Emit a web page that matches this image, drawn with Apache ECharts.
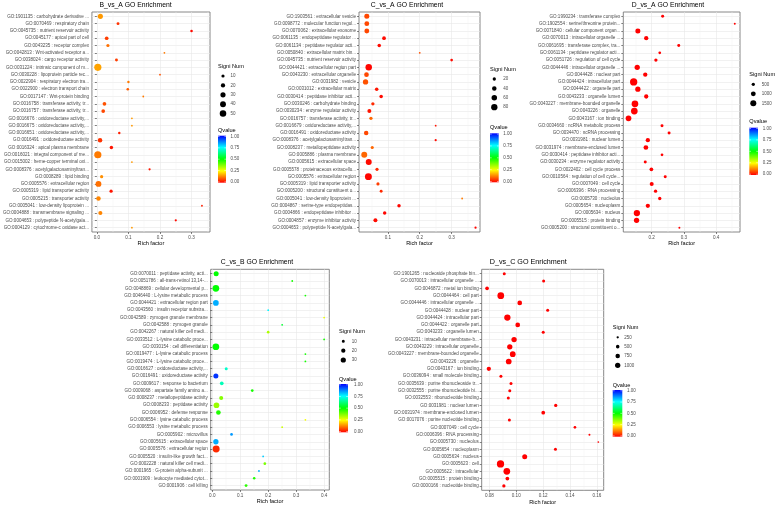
<!DOCTYPE html>
<html><head><meta charset="utf-8">
<script src="https://cdn.jsdelivr.net/npm/echarts@6/dist/echarts.min.js"></script>
<style>html,body{margin:0;padding:0;background:#fff}#c{width:778px;height:507px}</style>
</head><body><div id="c"></div>
<script>
const FONT = '"Liberation Sans", Arial, Helvetica, sans-serif';

// ---------- B_vs_A ----------
const bvaTerms = [
 "GO:1901135 : carbohydrate derivative ...","GO:0070469 : respiratory chain","GO:0045735 : nutrient reservoir activity",
 "GO:0045177 : apical part of cell","GO:0043235 : receptor complex","GO:0042813 : Wnt-activated receptor a...",
 "GO:0038024 : cargo receptor activity","GO:0031224 : intrinsic component of m...","GO:0030228 : lipoprotein particle rec...",
 "GO:0022904 : respiratory electron tra...","GO:0022900 : electron transport chain","GO:0017147 : Wnt-protein binding",
 "GO:0016758 : transferase activity, tr...","GO:0016757 : transferase activity, tr...","GO:0016676 : oxidoreductase activity,...",
 "GO:0016675 : oxidoreductase activity,...","GO:0016651 : oxidoreductase activity,...","GO:0016491 : oxidoreductase activity",
 "GO:0016324 : apical plasma membrane","GO:0016021 : integral component of me...","GO:0015002 : heme-copper terminal oxi...",
 "GO:0008376 : acetylgalactosaminyltran...","GO:0008289 : lipid binding","GO:0005576 : extracellular region",
 "GO:0005319 : lipid transporter activity","GO:0005215 : transporter activity","GO:0005041 : low-density lipoprotein ...",
 "GO:0004888 : transmembrane signaling ...","GO:0004653 : polypeptide N-acetylgala...","GO:0004129 : cytochrome-c oxidase act..."];
const bvaRich = [0.011,0.067,0.3,0.031,0.035,0.214,0.062,0.003,0.2,0.1,0.098,0.147,0.024,0.02,0.111,0.111,0.071,0.01,0.046,0.003,0.111,0.167,0.015,0.005,0.045,0.005,0.333,0.011,0.25,0.111];
const bvaCount = [30,8,6,14,10,1,8,62,1,5,6,1,14,14,1,1,5,22,12,62,1,4,10,40,10,22,1,18,4,1];
const bvaQ = [0.15,0.05,0.01,0.06,0.11,0.12,0.06,0.16,0.08,0.12,0.09,0.12,0.08,0.07,0.15,0.15,0.03,0.05,0.02,0.12,0.15,0.02,0.14,0.11,0.02,0.13,0.03,0.13,0.01,0.15];
const bvaXTicks = [0, 0.1, 0.2, 0.3];
const bvaXMinor = [0.05, 0.15, 0.25, 0.35];
const bvaSizeBreaks = [10, 20, 30, 40, 50];

// ---------- C_vs_A ----------
const cvaTerms = [
 "GO:1903561 : extracellular vesicle","GO:0098772 : molecular function regul...","GO:0070062 : extracellular exosome",
 "GO:0061135 : endopeptidase regulator ...","GO:0061134 : peptidase regulator acti...","GO:0050840 : extracellular matrix bin...",
 "GO:0045735 : nutrient reservoir activity","GO:0044421 : extracellular region part","GO:0043230 : extracellular organelle",
 "GO:0031982 : vesicle","GO:0031012 : extracellular matrix","GO:0030414 : peptidase inhibitor acti...",
 "GO:0030246 : carbohydrate binding","GO:0030234 : enzyme regulator activity","GO:0016757 : transferase activity, tr...",
 "GO:0016679 : oxidoreductase activity,...","GO:0016491 : oxidoreductase activity","GO:0008376 : acetylgalactosaminyltran...",
 "GO:0008237 : metallopeptidase activity","GO:0005886 : plasma membrane","GO:0005615 : extracellular space",
 "GO:0005578 : proteinaceous extracellu...","GO:0005576 : extracellular region","GO:0005319 : lipid transporter activity",
 "GO:0005200 : structural constituent o...","GO:0005041 : low-density lipoprotein ...","GO:0004867 : serine-type endopeptidas...",
 "GO:0004866 : endopeptidase inhibitor ...","GO:0004857 : enzyme inhibitor activity","GO:0004653 : polypeptide N-acetylgala..."];
const cvaRich = [0.034,0.034,0.034,0.088,0.073,0.2,0.3,0.04,0.033,0.03,0.065,0.079,0.053,0.042,0.047,0.25,0.032,0.25,0.051,0.026,0.04,0.066,0.039,0.069,0.079,0.333,0.135,0.09,0.061,0.375];
const cvaCount = [49,45,47,26,23,2,12,85,43,55,23,23,20,30,20,3,39,8,18,72,72,18,98,18,15,2,22,22,30,8];
const cvaQ = [0.07,0.07,0.07,0.01,0.01,0.08,0.01,0.005,0.07,0.08,0.02,0.01,0.04,0.02,0.1,0.02,0.07,0.01,0.1,0.1,0.01,0.04,0.005,0.06,0.04,0.12,0.005,0.005,0.01,0.005];
const cvaXTicks = [0.1, 0.2, 0.3];
const cvaXMinor = [0.05, 0.15, 0.25, 0.35];
const cvaSizeBreaks = [20, 40, 60, 80];

// ---------- D_vs_A ----------
const dvaTerms = [
 "GO:1990234 : transferase complex","GO:1902554 : serine/threonine protein...","GO:0071840 : cellular component organ...",
 "GO:0070013 : intracellular organelle ...","GO:0061695 : transferase complex, tra...","GO:0061134 : peptidase regulator acti...",
 "GO:0051726 : regulation of cell cycle","GO:0044446 : intracellular organelle ...","GO:0044428 : nuclear part",
 "GO:0044424 : intracellular part","GO:0044422 : organelle part","GO:0043233 : organelle lumen",
 "GO:0043227 : membrane-bounded organelle","GO:0043226 : organelle","GO:0043167 : ion binding",
 "GO:0034660 : ncRNA metabolic process","GO:0034470 : ncRNA processing","GO:0031981 : nuclear lumen",
 "GO:0031974 : membrane-enclosed lumen","GO:0030414 : peptidase inhibitor acti...","GO:0030234 : enzyme regulator activity",
 "GO:0022402 : cell cycle process","GO:0010564 : regulation of cell cycle...","GO:0007049 : cell cycle",
 "GO:0006396 : RNA processing","GO:0005730 : nucleolus","GO:0005654 : nucleoplasm",
 "GO:0005634 : nucleus","GO:0005515 : protein binding","GO:0005200 : structural constituent o..."];
const dvaRich = [0.234,0.458,0.157,0.183,0.284,0.225,0.213,0.155,0.18,0.144,0.157,0.183,0.148,0.146,0.128,0.232,0.254,0.188,0.182,0.232,0.18,0.199,0.242,0.2,0.212,0.225,0.188,0.154,0.153,0.286];
const dvaCount = [420,210,1060,800,420,350,500,1180,800,2150,1180,800,1830,1830,1350,420,420,800,950,350,420,610,420,700,500,500,800,1630,1180,210];
const dvaQ = [0,0,0,0,0,0,0,0,0,0,0,0,0,0,0,0,0,0,0,0,0,0,0,0,0,0,0,0,0,0];
const dvaXTicks = [0.2, 0.3, 0.4];
const dvaXMinor = [0.15, 0.25, 0.35, 0.45];
const dvaSizeBreaks = [500, 1000, 1500];

// ---------- C_vs_B ----------
const cvbTerms = [
 "GO:0070011 : peptidase activity, acti...","GO:0051786 : all-trans-retinol 13,14-...","GO:0048869 : cellular developmental p...",
 "GO:0046440 : L-lysine metabolic process","GO:0044421 : extracellular region part","GO:0043560 : insulin receptor substra...",
 "GO:0042589 : zymogen granule membrane","GO:0042588 : zymogen granule","GO:0042267 : natural killer cell medi...",
 "GO:0033512 : L-lysine catabolic proce...","GO:0030154 : cell differentiation","GO:0019477 : L-lysine catabolic process",
 "GO:0019474 : L-lysine catabolic proce...","GO:0016627 : oxidoreductase activity,...","GO:0016491 : oxidoreductase activity",
 "GO:0009617 : response to bacterium","GO:0009068 : aspartate family amino a...","GO:0008237 : metallopeptidase activity",
 "GO:0008233 : peptidase activity","GO:0006952 : defense response","GO:0006554 : lysine catabolic process",
 "GO:0006553 : lysine metabolic process","GO:0005902 : microvillus","GO:0005615 : extracellular space",
 "GO:0005576 : extracellular region","GO:0005520 : insulin-like growth fact...","GO:0002228 : natural killer cell medi...",
 "GO:0001965 : G-protein alpha-subunit ...","GO:0001909 : leukocyte mediated cytot...","GO:0001906 : cell killing"];
const cvbRich = [0.014,0.286,0.013,0.333,0.013,0.2,0.4,0.25,0.2,0.4,0.013,0.333,0.333,0.05,0.013,0.034,0.143,0.032,0.015,0.022,0.333,0.25,0.069,0.013,0.014,0.182,0.188,0.167,0.15,0.121];
const cvbCount = [28,2,50,2,36,2,1,2,8,1,50,2,2,10,28,15,8,18,36,24,1,2,8,31,54,2,8,2,7,9];
const cvbQ = [0.5,0.48,0.5,0.48,0.83,0.76,0.27,0.55,0.33,0.48,0.5,0.48,0.48,0.7,0.95,0.68,0.48,0.37,0.35,0.47,0.26,0.3,0.85,0.83,0.04,0.8,0.38,0.83,0.47,0.46];
const cvbXTicks = [0, 0.1, 0.2, 0.3, 0.4];
const cvbXMinor = [0.05, 0.15, 0.25, 0.35];
const cvbSizeBreaks = [10, 20, 30];

// ---------- D_vs_C ----------
const dvcTerms = [
 "GO:1901265 : nucleoside phosphate bin...","GO:0070013 : intracellular organelle ...","GO:0046872 : metal ion binding",
 "GO:0044464 : cell part","GO:0044446 : intracellular organelle ...","GO:0044428 : nuclear part",
 "GO:0044424 : intracellular part","GO:0044422 : organelle part","GO:0043233 : organelle lumen",
 "GO:0043231 : intracellular membrane-b...","GO:0043229 : intracellular organelle","GO:0043227 : membrane-bounded organelle",
 "GO:0043226 : organelle","GO:0043167 : ion binding","GO:0036094 : small molecule binding",
 "GO:0035639 : purine ribonucleoside tr...","GO:0032555 : purine ribonucleotide bi...","GO:0032553 : ribonucleotide binding",
 "GO:0031981 : nuclear lumen","GO:0031974 : membrane-enclosed lumen","GO:0017076 : purine nucleotide binding",
 "GO:0007049 : cell cycle","GO:0006396 : RNA processing","GO:0005730 : nucleolus",
 "GO:0005654 : nucleoplasm","GO:0005634 : nucleus","GO:0005623 : cell",
 "GO:0005622 : intracellular","GO:0005515 : protein binding","GO:0000166 : nucleotide binding"];
const dvcRich = [0.0911,0.1204,0.0783,0.0885,0.1026,0.1234,0.0934,0.1011,0.1201,0.0984,0.0952,0.0974,0.0944,0.0796,0.0886,0.0961,0.0952,0.0941,0.1294,0.1201,0.0949,0.1437,0.1545,0.1611,0.1292,0.1063,0.0883,0.093,0.0934,0.0908];
const dvcCount = [380,380,540,1520,810,380,1360,810,380,1000,1000,1130,1130,690,380,380,380,380,440,540,380,320,200,160,380,900,1770,1520,540,440];
const dvcQ = [0,0,0,0,0,0,0,0,0,0,0,0,0,0,0,0,0,0,0,0,0,0,0,0,0,0,0,0,0,0];
const dvcXTicks = [0.08, 0.10, 0.12, 0.14, 0.16];
const dvcXMinor = [0.09, 0.11, 0.13, 0.15];
const dvcSizeBreaks = [250, 500, 750, 1000];

const qBreaks = [1, 0.75, 0.5, 0.25, 0];
const qColors = ['#FF0000', '#FFFF00', '#00FF00', '#00FFFF', '#0000FF'];

const panels = [
 {title:'B_vs_A GO Enrichment', terms:bvaTerms, rich:bvaRich, count:bvaCount, q:bvaQ, ticks:bvaXTicks, minor:bvaXMinor, xMin:-0.0157, xMax:0.3585, dec:1,
  grid:{left:91, top:12, width:119, height:220}, tx:135.5, ty:5, tsize:6.8, sa:0.844, sb:0.53, smin:1.8, breaks:bvaSizeBreaks,
  leg:{x:218, sTitleY:66.5, cx:223, cy0:76, step:9.4, lx:230.5, qTitleY:130, barTop:135.7, barBot:182.7, barW:8, qlx:230.5}},
 {title:'C_vs_A GO Enrichment', terms:cvaTerms, rich:cvaRich, count:cvaCount, q:cvaQ, ticks:cvaXTicks, minor:cvaXMinor, xMin:0.0095, xMax:0.389, dec:1,
  grid:{left:359, top:12, width:121, height:220}, tx:407, ty:5, tsize:6.8, sa:0.671, sb:0.3, smin:1.8, breaks:cvaSizeBreaks,
  leg:{x:490, sTitleY:69, cx:494.3, cy0:79, step:9.4, lx:503.3, qTitleY:127.7, barTop:133.3, barBot:182.3, barW:8.7, qlx:503.3}},
 {title:'D_vs_A GO Enrichment', terms:dvaTerms, rich:dvaRich, count:dvaCount, q:dvaQ, ticks:dvaXTicks, minor:dvaXMinor, xMin:0.1118, xMax:0.4742, dec:1,
  grid:{left:623.3, top:12, width:116.7, height:220}, tx:668, ty:5, tsize:6.8, sa:0.166, sb:-0.41, smin:1.8, breaks:dvaSizeBreaks,
  leg:{x:749.3, sTitleY:74, cx:753.3, cy0:84.3, step:9.5, lx:761.7, qTitleY:121.7, barTop:127.7, barBot:175, barW:8.7, qlx:762.7}},
 {title:'C_vs_B GO Enrichment', terms:cvbTerms, rich:cvbRich, count:cvbCount, q:cvbQ, ticks:cvbXTicks, minor:cvbXMinor, xMin:-0.0055, xMax:0.4185, dec:1,
  grid:{left:210.7, top:269.3, width:118.6, height:220.7}, tx:257, ty:262.3, tsize:6.8, sa:0.95, sb:0, smin:1.8, breaks:cvbSizeBreaks,
  leg:{x:339, sTitleY:331, cx:343.3, cy0:341.3, step:9.35, lx:351.7, qTitleY:379.3, barTop:384, barBot:432.3, barW:9, qlx:354}},
 {title:'D_vs_C GO Enrichment', terms:dvcTerms, rich:dvcRich, count:dvcCount, q:dvcQ, ticks:dvcXTicks, minor:dvcXMinor, xMin:0.0743, xMax:0.1651, dec:2,
  grid:{left:481.7, top:269.3, width:122, height:221}, tx:528.3, ty:262.3, tsize:7.2, sa:0.19, sb:-0.7, smin:1.6, breaks:dvcSizeBreaks,
  leg:{x:612.7, sTitleY:327.3, cx:617.7, cy0:337.3, step:9.33, lx:624.3, qTitleY:385, barTop:390, barBot:436.7, barW:9.6, qlx:627}}
];

function sizeOf(p, n){ return Math.max(p.smin, p.sa*Math.sqrt(n) + p.sb); }
function txt(x, y, text, size, fill, align){
  return {type:'text', x:x, y:y, silent:true, z:10,
    style:{text:text, font:size+'px '+FONT, fill:fill, textAlign:align||'left', align:align||'left',
           textVerticalAlign:'middle', verticalAlign:'middle'}};
}

const grids = [], xAxes = [], yAxes = [], series = [], graphics = [];
panels.forEach((p, k) => {
  const rows = p.terms.map((t, i) => i + 1);
  grids.push(Object.assign({show:true, borderColor:'#7a7a7a', borderWidth:0.9, backgroundColor:'#fff', containLabel:false}, p.grid));
  xAxes.push({gridIndex:k, type:'value', min:p.xMin, max:p.xMax,
    axisLine:{show:false},
    axisTick:{show:true, length:2, lineStyle:{color:'#333', width:0.6}, customValues:p.ticks},
    axisLabel:{customValues:p.ticks, formatter:v => Number(v).toFixed(p.dec), fontSize:4.6, color:'#4d4d4d', margin:3, fontFamily:FONT},
    splitLine:{show:true, lineStyle:{color:'#e8e8e8', width:0.6}},
    name:'Rich factor', nameLocation:'middle', nameGap:8.5,
    nameTextStyle:{fontSize:5.6, color:'#000', fontFamily:FONT}});
  yAxes.push({gridIndex:k, type:'value', inverse:true, min:0.4, max:rows.length + 0.6,
    axisLine:{show:false},
    axisTick:{show:true, length:2, lineStyle:{color:'#333', width:0.6}, customValues:rows},
    axisLabel:{customValues:rows, formatter:v => p.terms[Math.round(v) - 1] || '', fontSize:4.55, color:'#4d4d4d', margin:3, fontFamily:FONT},
    splitLine:{show:true, lineStyle:{color:'#e8e8e8', width:0.6}}});
  series.push({type:'scatter', xAxisIndex:k, yAxisIndex:k, silent:true, z:3,
    data:p.rich.map((r, i) => [r, i + 1, p.count[i], p.q[i]]),
    symbolSize:(val) => sizeOf(p, val[2]),
    itemStyle:{opacity:1}});

  // title
  graphics.push(txt(p.tx, p.ty, p.title, p.tsize, '#000', 'center'));
  // size legend
  const L = p.leg;
  graphics.push(txt(L.x, L.sTitleY, 'Signi Num', 5.6, '#000', 'left'));
  p.breaks.forEach((b, j) => {
    const cy = L.cy0 + j*L.step;
    graphics.push({type:'circle', silent:true, z:10, shape:{cx:L.cx, cy:cy, r:sizeOf(p, b)/2}, style:{fill:'#000'}});
    graphics.push(txt(L.lx, cy, String(b), 4.5, '#4d4d4d', 'left'));
  });
  // colour bar legend
  graphics.push(txt(L.x, L.qTitleY, 'Qvalue', 5.6, '#000', 'left'));
  const h = L.barBot - L.barTop;
  graphics.push({type:'rect', silent:true, z:10, shape:{x:L.x, y:L.barTop, width:L.barW, height:h},
    style:{fill:{type:'linear', x:0, y:0, x2:0, y2:1, colorStops:[
      {offset:0, color:qColors[4]}, {offset:0.25, color:qColors[3]}, {offset:0.5, color:qColors[2]},
      {offset:0.75, color:qColors[1]}, {offset:1, color:qColors[0]}]}}});
  qBreaks.forEach(q => {
    const y = L.barTop + 0.8 + (1 - q)*(h - 1.6);
    const tl = L.barW/5;
    graphics.push({type:'line', silent:true, z:11, shape:{x1:L.x, y1:y, x2:L.x + tl, y2:y}, style:{stroke:'#fff', lineWidth:0.5}});
    graphics.push({type:'line', silent:true, z:11, shape:{x1:L.x + L.barW - tl, y1:y, x2:L.x + L.barW, y2:y}, style:{stroke:'#fff', lineWidth:0.5}});
    graphics.push(txt(L.qlx, y, q.toFixed(2), 4.5, '#4d4d4d', 'left'));
  });
});
// minor vertical grid lines (separate hidden axes)
panels.forEach((p, k) => {
  xAxes.push({gridIndex:k, type:'value', min:p.xMin, max:p.xMax, position:'top',
    axisLine:{show:false}, axisLabel:{show:false},
    axisTick:{show:false, customValues:p.minor},
    splitLine:{show:true, lineStyle:{color:'#f3f3f3', width:0.45}}});
});

const chart = echarts.init(document.getElementById('c'), null, {renderer:'canvas'});
chart.setOption({
  animation:false,
  backgroundColor:'#fff',
  textStyle:{fontFamily:FONT},
  grid:grids, xAxis:xAxes, yAxis:yAxes, series:series,
  visualMap:[{type:'continuous', show:false, min:0, max:1, dimension:3, seriesIndex:[0,1,2,3,4],
    inRange:{color:qColors}}],
  graphic:{elements:graphics}
});
</script>
</body></html>
